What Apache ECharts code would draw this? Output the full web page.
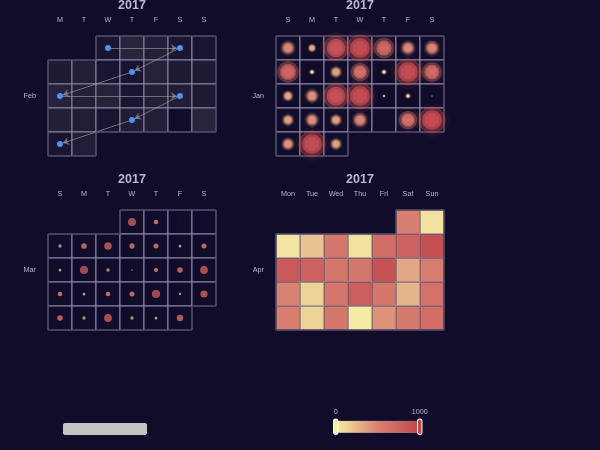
<!DOCTYPE html>
<html>
<head>
<meta charset="utf-8">
<script src="https://cdn.jsdelivr.net/npm/echarts@6/dist/echarts.min.js"></script>
<style>
html, body { margin: 0; padding: 0; background: #100C2A; }
#main { width: 600px; height: 450px; }
</style>
</head>
<body>
<div id="main"></div>
<script>
// ---- data ----
const year = 2017;
const graphDates = ['2017-02-01', '2017-02-04', '2017-02-09', '2017-02-13', '2017-02-18', '2017-02-23', '2017-02-27'];
const graphValues = [260, 200, 279, 847, 241, 411, 985];

// Feb (grey heatmap), day 1..28
const febValues = [250, 700, 550, 300, 250,
  450, 550, 300, 250, 650, 400, 450,
  650, 550, 650, 300, 550, 500, 400,
  550, 500, 250, 500, 550, 30, 700,
  250, 500];

// Jan (effect scatter), day 1..31
const janValues = [480, 260, 880, 950, 720, 480, 500,
  750, 170, 380, 650, 170, 950, 700,
  350, 450, 900, 950, 90, 170, 40,
  380, 450, 380, 500, 5, 650, 950,
  420, 950, 380];

// Mar (scatter), day 1..31
const marValues = [800, 470, 40, 10,
  330, 570, 750, 530, 500, 300, 500,
  300, 820, 350, 130, 400, 560, 780,
  470, 300, 470, 500, 820, 230, 720,
  560, 330, 780, 330, 300, 650];

// Apr (heatmap), day 1..30
const aprValues = [520, 60,
  50, 200, 580, 70, 650, 750, 900,
  820, 750, 580, 600, 880, 330, 540,
  500, 130, 580, 780, 600, 270, 640,
  530, 130, 590, 20, 420, 560, 650];

const dayNamesShort = ['S', 'M', 'T', 'W', 'T', 'F', 'S'];
const dayNamesAbbr = ['Sun', 'Mon', 'Tue', 'Wed', 'Thu', 'Fri', 'Sat'];
const monthNames = ['Jan', 'Feb', 'Mar', 'Apr', 'May', 'Jun', 'Jul', 'Aug', 'Sep', 'Oct', 'Nov', 'Dec'];

// ---- helpers ----
function pad(n) { return n < 10 ? '0' + n : '' + n; }
function monthData(month, values) {
  return values.map(function (v, i) {
    return [year + '-' + pad(month) + '-' + pad(i + 1), v];
  });
}

const textColor = '#B9B8CE';
const bg = '#100C2A';

function makeCalendar(range, left, top, firstDay, dayNames) {
  return {
    orient: 'vertical',
    range: range,
    left: left,
    top: top,
    cellSize: 24,
    yearLabel: { margin: 24, fontSize: 12.5, color: textColor, fontWeight: 'bolder', fontFamily: 'sans-serif' },
    monthLabel: { margin: 12, fontSize: 7.2, color: textColor, nameMap: monthNames },
    dayLabel: { firstDay: firstDay, nameMap: dayNames, fontSize: 7.2, color: textColor, margin: 12 },
    itemStyle: { color: bg, borderColor: '#8e8cac', borderWidth: 1 },
    splitLine: { show: true, lineStyle: { color: '#3a3852', width: 1 } }
  };
}

const graphData = graphDates.map(function (d, i) { return [d, graphValues[i]]; });
const links = graphData.map(function (item, idx) { return { source: idx, target: idx + 1 }; });
links.pop();

const chart = echarts.init(document.getElementById('main'), null, { renderer: 'canvas' });

const option = {
  backgroundColor: bg,
  textStyle: { color: textColor },
  visualMap: [
    {
      type: 'continuous',
      min: 0,
      max: 1000,
      calculable: true,
      seriesIndex: [2, 3, 4],
      orient: 'horizontal',
      left: 330,
      bottom: 12,
      padding: 3,
      itemWidth: 12,
      itemHeight: 84,
      textStyle: { color: textColor, fontSize: 7.2 },
      inRange: { color: ['#f6efa6', '#d88273', '#bf444c'] }
    },
    {
      type: 'continuous',
      min: 0,
      max: 1000,
      calculable: false,
      seriesIndex: [1],
      orient: 'horizontal',
      left: 60,
      bottom: 12,
      padding: 3,
      itemWidth: 12,
      itemHeight: 84,
      textStyle: { color: textColor, fontSize: 7.2 },
      inRange: { color: ['grey'], opacity: [0, 0.3] },
      controller: { inRange: { color: ['#c4c4c4'], opacity: [1, 1] } }
    }
  ],
  calendar: [
    makeCalendar('2017-02', 48, 36, 1, dayNamesShort),
    makeCalendar('2017-01', 276, 36, 0, dayNamesShort),
    makeCalendar('2017-03', 48, 210, 0, dayNamesShort),
    makeCalendar('2017-04', 276, 210, 1, dayNamesAbbr)
  ],
  series: [
    {
      type: 'graph',
      coordinateSystem: 'calendar',
      calendarIndex: 0,
      edgeSymbol: ['none', 'arrow'],
      edgeSymbolSize: 6,
      symbolSize: 6,
      itemStyle: { color: '#4992ff' },
      lineStyle: { color: '#aaa', opacity: 0.6, width: 1 },
      links: links,
      data: graphData
    },
    {
      type: 'heatmap',
      coordinateSystem: 'calendar',
      calendarIndex: 0,
      data: monthData(2, febValues)
    },
    {
      type: 'effectScatter',
      coordinateSystem: 'calendar',
      calendarIndex: 1,
      symbolSize: function (val) { return val[1] / 66; },
      data: monthData(1, janValues)
    },
    {
      type: 'scatter',
      coordinateSystem: 'calendar',
      calendarIndex: 2,
      symbolSize: function (val) { return val[1] / 100; },
      data: monthData(3, marValues)
    },
    {
      type: 'heatmap',
      coordinateSystem: 'calendar',
      calendarIndex: 3,
      data: monthData(4, aprValues)
    }
  ]
};
chart.setOption(option);
</script>
</body>
</html>
